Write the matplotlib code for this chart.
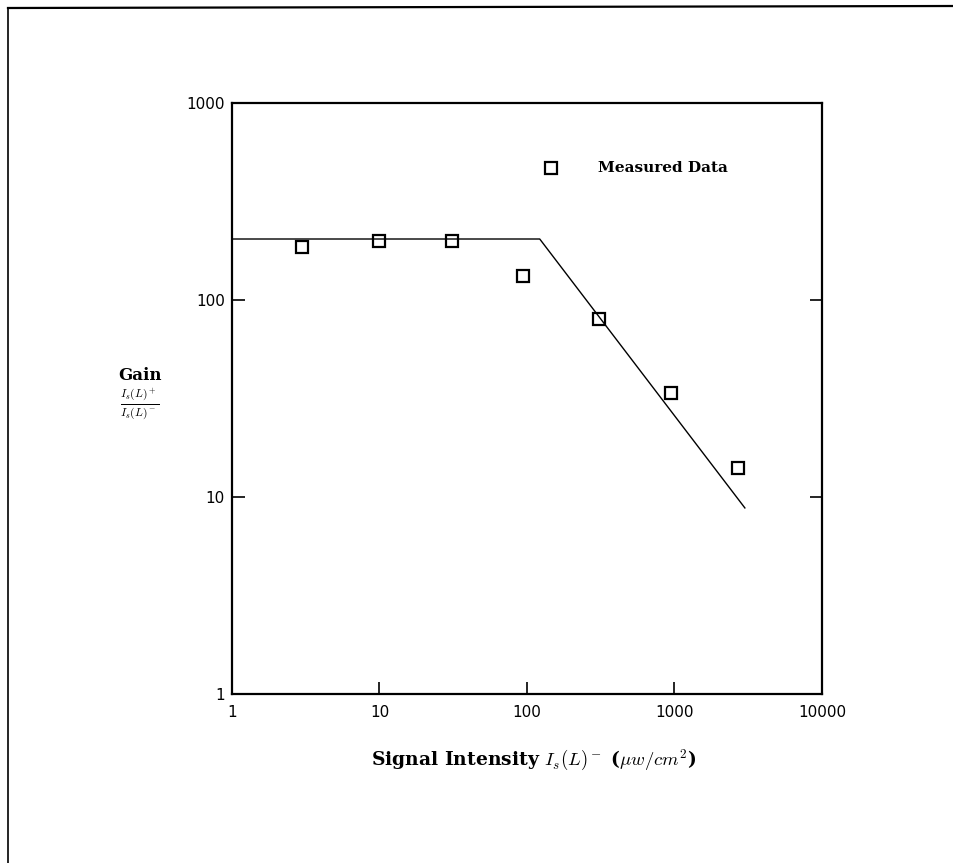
import matplotlib
matplotlib.use("Agg")
import matplotlib.pyplot as plt

plt.rcParams['mathtext.fontset'] = 'cm'

# measured gain vs signal intensity
intensity = [3, 10, 31, 94, 308, 947, 2690]
gain = [186, 199, 199, 132, 80, 33.7, 14.0]

# fitted line (saturation model)
fit_x = [1, 122, 3000]
fit_y = [204, 204, 8.8]

xticks = [1, 10, 100, 1000, 10000]
xtick_labels = ['1', '10', '100', '1000', '10000']
yticks = [1, 10, 100, 1000]
ytick_labels = ['1', '10', '100', '1000']

fig = plt.figure(figsize=(9.54, 8.63), dpi=100)
W, H = 954, 863
ax = fig.add_axes([232 / W, 1 - 694 / H, 590 / W, 591 / H])

ax.plot(fit_x, fit_y, color='black', lw=1.0)
ax.plot(intensity, gain, linestyle='none', marker='s', markersize=9,
        markerfacecolor='none', markeredgecolor='black', markeredgewidth=1.6)

ax.set_xscale('log')
ax.set_yscale('log')
ax.set_xlim(1, 10000)
ax.set_ylim(1, 1000)
ax.set_xticks(xticks)
ax.set_xticklabels(xtick_labels)
ax.set_yticks(yticks)
ax.set_yticklabels(ytick_labels)
ax.minorticks_off()
ax.tick_params(direction='in', length=9, width=1.2, top=False, right=True,
               labelsize=11)
ax.tick_params(axis='y', pad=5)
ax.tick_params(axis='x', pad=8)
for s in ax.spines.values():
    s.set_linewidth(1.6)

serif = 'DejaVu Serif'
# legend
ax.plot([0.541], [0.89], transform=ax.transAxes, marker='s', markersize=9,
        markerfacecolor='none', markeredgecolor='black', markeredgewidth=1.6)
ax.text(0.62, 0.89, 'Measured Data', transform=ax.transAxes,
        family=serif, weight='bold', fontsize=11, va='center', ha='left')

fig.text(140 / W, 1 - 375 / H, 'Gain', family=serif, weight='bold',
         fontsize=12, ha='center', va='center')
fig.text(140 / W, 1 - 404 / H, r'$\frac{I_s(L)^+}{I_s(L)^-}$',
         fontsize=12, ha='center', va='center')

fig.text(534 / W, 1 - 760 / H,
         r'Signal Intensity $I_s(L)^-$ ($\mu w/cm^2$)',
         family=serif, weight='bold', fontsize=13.5, ha='center', va='center')

# page border from the scan
fig.add_artist(plt.Line2D([8 / W, 8 / W], [0, 1 - 8 / H], color='black', lw=1.2))
fig.add_artist(plt.Line2D([8 / W, 1], [1 - 8 / H, 1 - 6 / H], color='black', lw=1.6))

fig.savefig('out.png', dpi=100)
